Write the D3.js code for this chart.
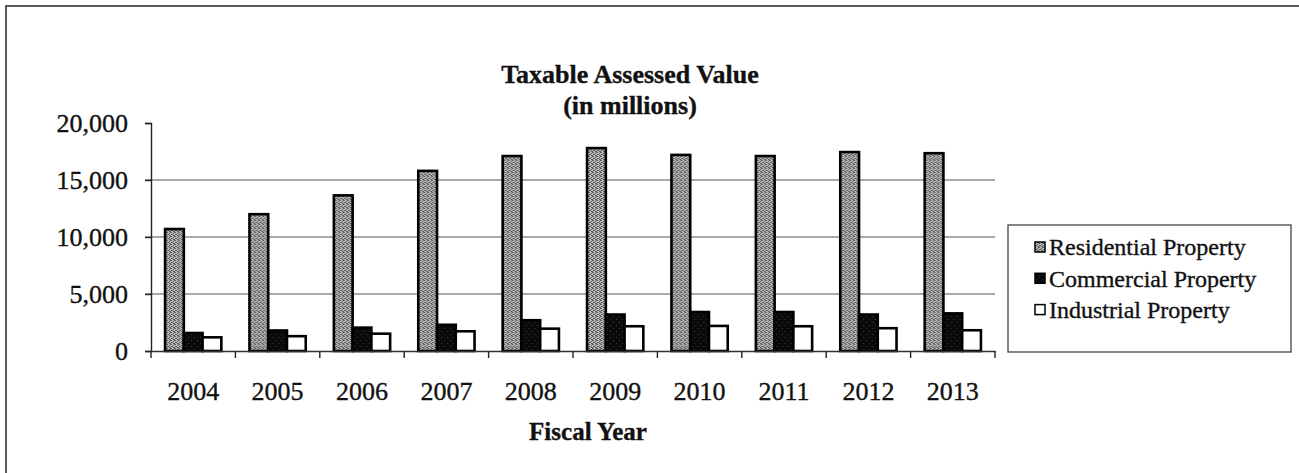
<!DOCTYPE html>
<html>
<head>
<meta charset="utf-8">
<script src="https://cdn.jsdelivr.net/npm/d3@7"></script>
<style>
  html, body { margin: 0; padding: 0; background: #fff; }
  svg { display: block; }
  text { font-family: "Liberation Serif", "Times New Roman", serif; fill: #111; stroke: #111; stroke-width: 0.35px; }
</style>
</head>
<body>
<svg id="chart" width="1299" height="473"></svg>
<script>
// Taxable assessed value by property class, fiscal years 2004-2013 (millions)
const years = ["2004", "2005", "2006", "2007", "2008", "2009", "2010", "2011", "2012", "2013"];
const residential = [10700, 12000, 13650, 15800, 17100, 17800, 17200, 17100, 17450, 17350];
const commercial  = [1580, 1800, 2050, 2300, 2700, 3200, 3420, 3420, 3200, 3300];
const industrial  = [1200, 1300, 1520, 1730, 1960, 2170, 2200, 2170, 2000, 1820];
const seriesNames = ["Residential Property", "Commercial Property", "Industrial Property"];
const yTicks = [0, 5000, 10000, 15000, 20000];
const gridTicks = [5000, 10000, 15000];

const seriesValues = [residential, commercial, industrial];
const rows = years.map((yr, i) => ({
  year: yr,
  values: seriesNames.map((name, s) => ({ name, value: seriesValues[s][i] }))
}));

const svg = d3.select("#chart");

// Patterns: stippled gray for residential, speckled black for commercial
const defs = svg.append("defs");
const pRes = defs.append("pattern").attr("id", "resFill")
  .attr("patternUnits", "userSpaceOnUse").attr("width", 4).attr("height", 4);
pRes.append("rect").attr("width", 4).attr("height", 4).attr("fill", "#b8b8b8");
[[0,0],[2,1],[1,2],[3,3],[2,3],[0,2],[3,0]].forEach(([px, py]) =>
  pRes.append("rect").attr("x", px).attr("y", py).attr("width", 1).attr("height", 1).attr("fill", "#5e5e5e"));
const pCom = defs.append("pattern").attr("id", "comFill")
  .attr("patternUnits", "userSpaceOnUse").attr("width", 6).attr("height", 6);
pCom.append("rect").attr("width", 6).attr("height", 6).attr("fill", "#0a0a0a");
[[1,1],[4,4]].forEach(([px, py]) =>
  pCom.append("rect").attr("x", px).attr("y", py).attr("width", 1).attr("height", 1).attr("fill", "#3a3a3a"));
const fills = ["url(#resFill)", "url(#comFill)", "#ffffff"];

// Outer frame
svg.append("rect").attr("x", 6).attr("y", 6).attr("width", 1310).attr("height", 480)
  .attr("fill", "none").attr("stroke", "#333").attr("stroke-width", 1.6);

// Scales
const x = d3.scaleBand().domain(years).range([151, 995]).padding(0);
const xSub = d3.scaleBand().domain(seriesNames).range([0, x.bandwidth()])
  .paddingInner(0).paddingOuter(0.75);
const y = d3.scaleLinear().domain([0, 20000]).range([351, 123]);

// Gridlines
svg.append("g").selectAll("line").data(gridTicks).join("line")
  .attr("x1", 145).attr("x2", 995)
  .attr("y1", d => y(d)).attr("y2", d => y(d))
  .attr("stroke", "#8c8c8c").attr("stroke-width", 1.4);

// Bars
const groups = svg.append("g").selectAll("g").data(rows).join("g")
  .attr("transform", d => `translate(${x(d.year)},0)`);
groups.selectAll("rect").data(d => d.values).join("rect")
  .attr("x", d => xSub(d.name))
  .attr("width", xSub.bandwidth())
  .attr("y", d => y(d.value))
  .attr("height", d => y(0) - y(d.value))
  .attr("fill", (d, i) => fills[i])
  .attr("stroke", "#000").attr("stroke-width", 2.6);

// Y axis
const yAxis = svg.append("g").attr("transform", "translate(151,0)")
  .call(d3.axisLeft(y).tickValues(yTicks).tickFormat(d3.format(",")).tickSize(6).tickPadding(17));
yAxis.select(".domain").attr("stroke", "#222").attr("stroke-width", 1.4);
yAxis.selectAll(".tick line").attr("stroke", "#222").attr("stroke-width", 1.4);
yAxis.selectAll("text").style("font-size", "26px").attr("dy", "0.33em").attr("fill", "#111");

// X axis: labels centred in bands, tick marks at band boundaries
const xAxis = svg.append("g").attr("transform", `translate(0,${y(0)})`)
  .call(d3.axisBottom(x).tickSize(0).tickPadding(31));
xAxis.select(".domain").attr("stroke", "#333").attr("stroke-width", 1.4);
xAxis.selectAll("text").style("font-size", "26px").attr("fill", "#111");
const boundaries = years.map(d => x(d)).concat([x.range()[1]]);
svg.append("g").selectAll("line").data(boundaries).join("line")
  .attr("x1", d => d).attr("x2", d => d)
  .attr("y1", y(0)).attr("y2", y(0) + 7)
  .attr("stroke", "#222").attr("stroke-width", 1.4);

// Titles
svg.append("text").attr("x", 630).attr("y", 83).attr("text-anchor", "middle")
  .style("font-size", "26px").style("font-weight", "bold").text("Taxable Assessed Value");
svg.append("text").attr("x", 630).attr("y", 114).attr("text-anchor", "middle")
  .style("font-size", "26px").style("font-weight", "bold").text("(in millions)");
svg.append("text").attr("x", 588).attr("y", 440).attr("text-anchor", "middle")
  .style("font-size", "25px").style("font-weight", "bold").text("Fiscal Year");

// Legend
const legend = svg.append("g");
legend.append("rect").attr("x", 1008).attr("y", 225).attr("width", 283).attr("height", 127)
  .attr("fill", "#fff").attr("stroke", "#444").attr("stroke-width", 1.3);
const items = legend.selectAll("g").data(seriesNames).join("g")
  .attr("transform", (d, i) => `translate(1035,${247 + i * 31.3})`);
items.append("rect").attr("x", 0).attr("y", -5).attr("width", 10).attr("height", 10)
  .attr("fill", (d, i) => fills[i]).attr("stroke", "#000").attr("stroke-width", 1.5);
items.append("text").attr("x", 14).attr("dy", "0.35em")
  .style("font-size", "24px").text(d => d);
</script>
</body>
</html>
